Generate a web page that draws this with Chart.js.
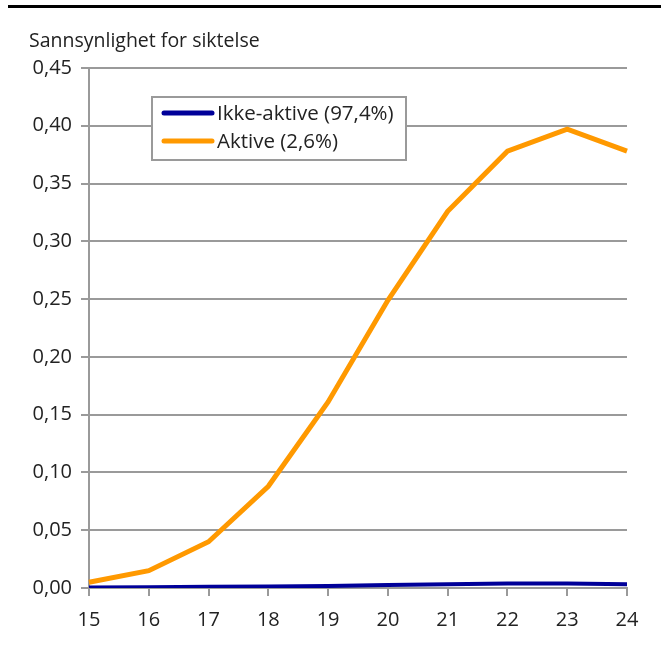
<!DOCTYPE html>
<html>
<head>
<meta charset="utf-8">
<script src="https://cdn.jsdelivr.net/npm/chart.js@4/dist/chart.umd.min.js"></script>
<style>
  html, body { margin: 0; padding: 0; background: #fff; }
  #wrap { width: 661px; height: 650px; }
</style>
</head>
<body>
<div id="wrap"><canvas id="myChart" width="661" height="650"></canvas></div>
<script>
const ages = ['15', '16', '17', '18', '19', '20', '21', '22', '23', '24'];
const inactiveValues = [0.0005, 0.0007, 0.001, 0.0013, 0.0018, 0.0027, 0.0033, 0.0038, 0.0038, 0.0033];
const activeValues = [0.005, 0.015, 0.040, 0.088, 0.161, 0.249, 0.326, 0.378, 0.397, 0.378];
const seriesNames = ['Ikke-aktive (97,4%)', 'Aktive (2,6%)'];
const yTitle = 'Sannsynlighet for siktelse';

const FONT = "'Open Sans', 'Noto Sans', sans-serif";
const GRID = '#9a9a9a';
const TEXT = '#222';

const decorPlugin = {
    id: 'decor',
    afterDraw(chart) {
        const c = chart.ctx;
        c.save();
        // top rule
        c.fillStyle = '#000';
        c.fillRect(8, 5, 661 - 8, 3);
        // axis title
        c.fillStyle = TEXT;
        c.font = "19.5px " + FONT;
        c.textBaseline = 'alphabetic';
        c.textAlign = 'left';
        c.fillText(yTitle, 29, 47);

        // legend box
        const bx = 152, by = 97, bw = 254, bh = 63;
        c.fillStyle = '#fff';
        c.fillRect(bx, by, bw, bh);
        c.strokeStyle = GRID;
        c.lineWidth = 2;
        c.strokeRect(bx, by, bw, bh);
        chart.data.datasets.forEach((ds, i) => {
            const y = by + 16 + i * 28;
            c.strokeStyle = ds.borderColor;
            c.lineWidth = 5;
            c.lineCap = 'round';
            c.beginPath();
            c.moveTo(164, y);
            c.lineTo(212, y);
            c.stroke();
            c.fillStyle = TEXT;
            c.font = "20.5px " + FONT;
            c.textBaseline = 'middle';
            c.fillText(ds.label, 217, y + 1);
        });
        c.restore();
    }
};

const ctx = document.getElementById('myChart').getContext('2d');
new Chart(ctx, {
    type: 'line',
    data: {
        labels: ages,
        datasets: [
            {
                label: seriesNames[0],
                data: inactiveValues,
                borderColor: '#000099',
                borderWidth: 4,
                pointRadius: 0,
                tension: 0
            },
            {
                label: seriesNames[1],
                data: activeValues,
                borderColor: '#ff9900',
                borderWidth: 5,
                pointRadius: 0,
                tension: 0
            }
        ]
    },
    options: {
        responsive: false,
        animation: false,
        layout: { padding: { top: 68, right: 34, left: 0, bottom: 0 } },
        plugins: {
            legend: { display: false },
            tooltip: { enabled: false }
        },
        scales: {
            x: {
                afterFit: s => { s.height = 62; },
                grid: { drawOnChartArea: false, drawTicks: true, tickLength: 8, color: GRID, lineWidth: 2 },
                border: { color: GRID, width: 2 },
                ticks: { color: TEXT, font: { family: FONT, size: 20 }, padding: 12, maxRotation: 0 }
            },
            y: {
                min: 0,
                max: 0.45,
                afterFit: s => { s.width = 89; },
                grid: { color: GRID, lineWidth: 2, tickLength: 8 },
                border: { color: GRID, width: 2 },
                ticks: {
                    stepSize: 0.05,
                    color: TEXT,
                    font: { family: FONT, size: 20 },
                    padding: 9,
                    callback: v => v.toFixed(2).replace('.', ',')
                }
            }
        }
    },
    plugins: [decorPlugin]
});
</script>
</body>
</html>
